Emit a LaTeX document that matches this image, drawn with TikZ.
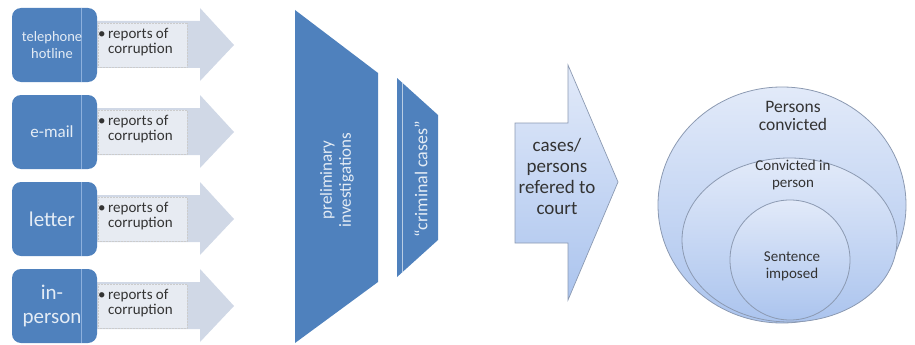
\documentclass[tikz,border=0pt]{standalone}
\usepackage{fontspec}
\setmainfont{Carlito}
\definecolor{boxblue}{HTML}{4F81BD}
\definecolor{arrowgray}{HTML}{D0D8E6}
\definecolor{txtfill}{HTML}{E7EBF2}
\definecolor{lightline}{HTML}{8DB0DD}
\definecolor{shtop}{HTML}{E2EAF9}
\definecolor{shbot}{HTML}{ABC4EE}
\definecolor{edgegray}{HTML}{8C9AB2}
\definecolor{darktxt}{HTML}{333333}
\begin{document}
\begin{tikzpicture}[x=1pt,y=-1pt,
  srcbox/.style={fill=boxblue, rounded corners=9pt, minimum width=85pt, minimum height=74pt, inner sep=0pt},
  srclabel/.style={text=white!85!boxblue, align=center, inner sep=0pt},
  flowarrow/.style={fill=arrowgray},
  txtbox/.style={fill=txtfill, draw=gray!40, densely dotted, line width=0.5pt, minimum width=89pt, minimum height=44pt, inner sep=0pt},
  txtlabel/.style={text=darktxt, align=left, font=\fontsize{15}{15.5}\selectfont, inner sep=0pt},
  stage/.style={fill=boxblue},
  stagelabel/.style={text=white!85!boxblue, align=center, rotate=90, inner sep=0pt},
  ring/.style={draw=edgegray, line width=0.8pt, top color=shtop, bottom color=shbot},
  ringlabel/.style={text=darktxt, align=center, inner sep=0pt}
]
\useasboundingbox (0,0) rectangle (915,345);

% --- four sources
\foreach \c/\n/\lab/\fs/\bs in {45/1/{telephone\\hotline}/14.5/17, 132/2/{e-mail}/17/19, 219/3/{letter}/21/23, 306/4/{in-\\person}/21/24}{
  \fill[flowarrow] (97,\c-24) -- (200,\c-24) -- (200,\c-37) -- (234,\c) -- (200,\c+36) -- (200,\c+23) -- (97,\c+23) -- cycle;
  \node[txtbox] (t\n) at (142.5,\c) {};
  \node[txtlabel, anchor=west] (r\n) at (108,\c-3) {\llap{\textbullet\,}reports of\\corruption};
  \node[srcbox] (b\n) at (54.5,\c) {};
  \draw[lightline, line width=0.7pt] (b\n.north) ++(27,0) -- ++(0,74);
  \node[srclabel, font=\fontsize{\fs}{\bs}\selectfont] (l\n) at (52,\c) {\lab};
}

% --- preliminary investigations
\fill[stage] (295,10) -- (378,73) -- (378,282) -- (295,343) -- cycle;
\node[stagelabel, font=\fontsize{17}{19}\selectfont] (pi) at (337,180) {preliminary\\investigations};

% --- criminal cases
\fill[stage] (397,78) -- (438,115) -- (438,240) -- (397,277) -- cycle;
\draw[white!60!boxblue, line width=0.6pt] (402,83) -- (402,272);
\node[stagelabel, font=\fontsize{18}{20}\selectfont] (cc) at (421,179) {“criminal cases”};

% --- referred to court arrow
\draw[draw=edgegray, line width=0.7pt, top color=shtop, bottom color=shbot]
  (515,123) -- (568,123) -- (568,65) -- (618,182) -- (568,300) -- (568,243) -- (515,243) -- cycle;
\node[text=darktxt, align=center, font=\fontsize{19}{21}\selectfont, inner sep=0pt] (court) at (557,176) {cases/\\persons\\refered to\\court};

% --- nested circles
\draw[ring] (782,205) ellipse [x radius=124, y radius=118];
\draw[ring] (789.5,240) ellipse [x radius=107.5, y radius=82];
\draw[ring] (790,260) ellipse [x radius=60, y radius=60];
\node[ringlabel, font=\fontsize{17.5}{18.5}\selectfont] (pc) at (793,116) {Persons\\convicted};
\node[ringlabel, font=\fontsize{15}{16.5}\selectfont] (cp) at (793,175) {Convicted in\\person};
\node[ringlabel, font=\fontsize{15}{17}\selectfont] (si) at (792,266) {Sentence\\imposed};
\end{tikzpicture}
\end{document}
